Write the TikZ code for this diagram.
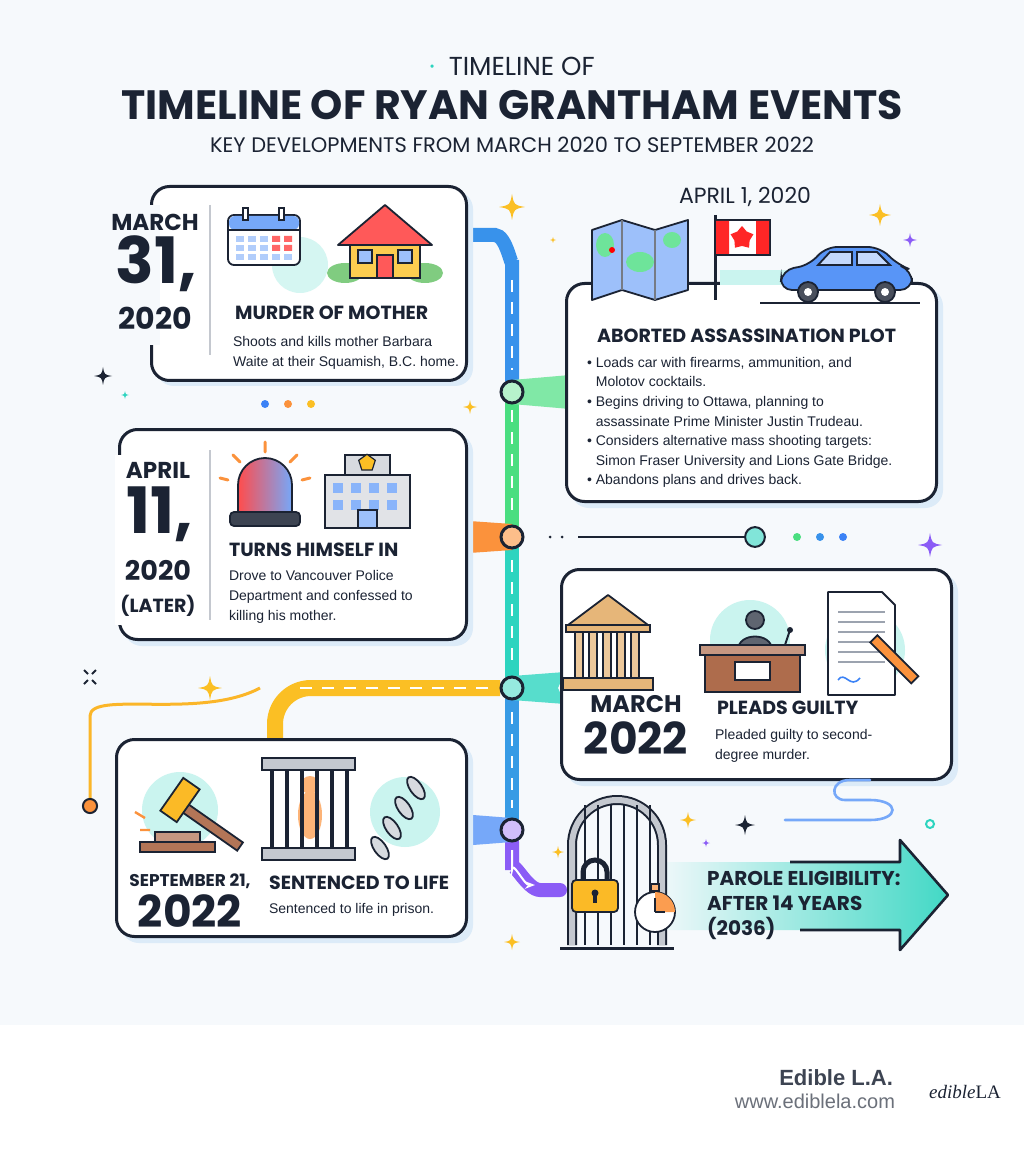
\documentclass[tikz,border=0pt]{standalone}
\usepackage{fontspec}
\setmainfont{Liberation Sans}
\newfontfamily\hd{Poppins}
\usetikzlibrary{shapes.geometric,arrows.meta,calc}
\definecolor{ink}{HTML}{1B2333}
\definecolor{bg}{HTML}{F6F9FC}
\definecolor{shadowc}{HTML}{DCEBF8}
\definecolor{lblue}{HTML}{3B82F6}
\definecolor{lgreen}{HTML}{4ADE80}
\definecolor{lteal}{HTML}{2DD4BF}
\definecolor{lpurple}{HTML}{8B5CF6}
\definecolor{lorange}{HTML}{FB923C}
\definecolor{lyellow}{HTML}{FBBF24}
\definecolor{tan}{HTML}{E0A458}
\definecolor{brownc}{HTML}{A0522D}
\definecolor{grayc}{HTML}{9CA3AF}
\tikzset{
 card/.style={draw=ink,line width=1.5pt,rounded corners=9pt,fill=white},
 shadowbox/.style={fill=shadowc,rounded corners=9pt},
 datebig/.style={font=\hd\bfseries\fontsize{32}{30}\selectfont,text=ink,align=center},
 ttl/.style={font=\hd\bfseries\fontsize{9.5}{11}\selectfont,text=ink,anchor=base west},
 body/.style={font=\fontsize{7}{10}\selectfont,text=ink,anchor=north west,align=left},
 dotn/.style={circle,draw=ink,line width=1.5pt,fill=white,minimum size=11pt,inner sep=0pt},
 icon/.style={draw=ink,line width=0.9pt},
}
\newcommand{\sparkle}[4]{\fill[#4] (#1,#2-#3) .. controls (#1+0.15*#3,#2-0.15*#3) .. (#1+#3,#2) .. controls (#1+0.15*#3,#2+0.15*#3) .. (#1,#2+#3) .. controls (#1-0.15*#3,#2+0.15*#3) .. (#1-#3,#2) .. controls (#1-0.15*#3,#2-0.15*#3) .. cycle;}
\begin{document}
\begin{tikzpicture}[x=0.5pt,y=-0.5pt]
\useasboundingbox (0,0) rectangle (1024,1154);
\fill[bg] (0,0) rectangle (1024,1025);
\fill[white] (0,1025) rectangle (1024,1154);
% titles
\node[font=\hd\fontsize{13}{15}\selectfont,text=ink] (t0) at (512,66) {{\color{lteal}·}\ \ TIMELINE OF};
\node[font=\hd\bfseries\fontsize{20.5}{24}\selectfont,text=ink] (t1) at (512,105) {TIMELINE OF RYAN GRANTHAM EVENTS};
\node[font=\hd\fontsize{10.5}{12}\selectfont,text=ink] (t2) at (512,145) {KEY DEVELOPMENTS FROM MARCH 2020 TO SEPTEMBER 2022};
% central line
\begin{scope}[line width=7pt,line cap=round]
\draw[lblue!80!lteal] (465,235) -- (495,235) to[out=0,in=-90] (512,260) -- (512,380);
\draw[lgreen] (512,400) -- (512,525);
\draw[lteal] (512,549) -- (512,676);
\draw[lblue!70!lteal] (512,700) -- (512,818);
\draw[lpurple] (512,842) -- (512,870) to[out=90,in=180] (540,890) -- (560,890);
\end{scope}
\draw[white,line width=1pt,dash pattern=on 6pt off 5pt] (512,280)--(512,370) (512,410)--(512,515) (512,560)--(512,665) (512,712)--(512,808);
\draw[white,line width=1pt,-{Stealth[length=5pt]}] (512,850)--(512,870) to[out=90,in=180] (535,885);
% orange paths
\draw[lyellow,line width=8pt,rounded corners=18pt] (275,738) -- (275,688) -- (500,688);
\draw[white,line width=1pt,dash pattern=on 6pt off 5pt] (300,688)--(490,688);
\draw[lyellow!80!lorange,line width=1.5pt,rounded corners=12pt] (90,805) -- (90,740) .. controls (90,690) and (200,720) .. (260,688);
\node[circle,draw=ink,fill=lorange,line width=1pt,inner sep=2.5pt] (od) at (90,806) {};
% ribbons
\fill[lgreen!70] (512,380) -- (570,375) -- (565,392) -- (570,409) -- (512,404) -- cycle;
\fill[lorange] (512,524) -- (455,520) -- (462,537) -- (455,554) -- (512,550) -- cycle;
\fill[lteal!80] (512,676) -- (565,672) -- (558,688) -- (565,704) -- (512,700) -- cycle;
\fill[lblue!70] (512,818) -- (460,814) -- (467,830) -- (460,846) -- (512,842) -- cycle;
% horizontal line right
\draw[ink,line width=1.2pt] (578,537) -- (745,537);
\fill[ink] (550,537) circle (1.5) (562,537) circle (1.5);
\node[circle,draw=ink,fill=lteal!60,line width=1pt,inner sep=3.5pt] (hc) at (755,537) {};
\fill[lgreen] (797,537) circle (4); \fill[lblue!80!lteal] (820,537) circle (4); \fill[lblue] (843,537) circle (4);
\fill[lblue] (265,404) circle (4); \fill[lorange] (288,404) circle (4); \fill[lyellow] (311,404) circle (4);
% cards
\fill[shadowbox] (156,191) rectangle (473,386);
\node[card,minimum width=157.5pt,minimum height=97pt,anchor=north west] (c1) at (150,185) {};
\fill[shadowbox] (571,288) rectangle (943,508);
\node[card,minimum width=185pt,minimum height=109pt,anchor=north west] (c2) at (565,282) {};
\fill[shadowbox] (124,434) rectangle (473,646);
\node[card,minimum width=173.5pt,minimum height=105pt,anchor=north west] (c3) at (118,428) {};
\fill[shadowbox] (566,574) rectangle (958,786);
\node[card,minimum width=195pt,minimum height=105pt,anchor=north west] (c4) at (560,568) {};
\fill[shadowbox] (121,744) rectangle (473,943);
\node[card,minimum width=175pt,minimum height=98.5pt,anchor=north west] (c5) at (115,738) {};
\fill[bg] (140,205) rectangle (160,345);
\fill[white] (115,455) rectangle (125,625);
% nodes on line
\node[dotn,fill=lgreen!40] (n1) at (512,392) {};
\node[dotn,fill=lorange!60] (n2) at (512,537) {};
\node[dotn,fill=lteal!50] (n3) at (512,688) {};
\node[dotn,fill=lpurple!40] (n4) at (512,830) {};
% card1
\node[font=\hd\bfseries\fontsize{11.5}{12}\selectfont,text=ink] (d1a) at (155,222) {MARCH};
\node[datebig] (d1b) at (156,264) {31,};
\node[font=\hd\bfseries\fontsize{15}{15}\selectfont,text=ink] (d1c) at (155,318) {2020};
\draw[grayc!60,line width=1pt] (210,205) -- (210,355);
\node[ttl] (h1) at (228,320) {MURDER OF MOTHER};
\node[body] (b1) at (226,329) {Shoots and kills mother Barbara\\Waite at their Squamish, B.C. home.};
% calendar
\fill[lteal!20] (300,265) circle (28);
\draw[icon,fill=white,rounded corners=3pt] (228,215) rectangle (300,265);
\fill[lblue!70,rounded corners=3pt] (229,216) rectangle (299,230);
\draw[icon] (228,230) -- (300,230);
\foreach \i in {0,...,4} \foreach \j in {0,1,2} {\fill[lblue!40] (236+\i*12,236+\j*9) rectangle +(8,6);}
\fill[red!60] (272,236) rectangle +(8,6) (284,236) rectangle +(8,6) (272,245) rectangle +(8,6) (284,245) rectangle +(8,6);
\draw[icon,fill=white] (243,208) rectangle +(5,12) (279,208) rectangle +(5,12);
% house
\fill[green!60!black!50] (345,273) ellipse (18 and 10) (425,273) ellipse (18 and 10);
\draw[icon,fill=lyellow!80] (350,240) rectangle (420,278);
\draw[icon,fill=red!65,line join=round] (338,245) -- (385,205) -- (432,245) -- cycle;
\draw[icon,fill=red!65] (377,255) rectangle (393,278);
\draw[icon,fill=lblue!50] (358,250) rectangle (372,263) (398,250) rectangle (412,263);
% card2
\node[font=\hd\fontsize{11}{12}\selectfont,text=ink] (d2) at (745,197) {APRIL 1, 2020};
\draw[icon,fill=lblue!50,line join=round] (592,230) -- (622,220) -- (655,230) -- (688,220) -- (688,290) -- (655,300) -- (622,290) -- (592,300) -- cycle;
\fill[lgreen!80] (605,245) ellipse (9 and 12) (640,262) ellipse (14 and 10) (672,240) ellipse (9 and 8);
\draw[ink!60,line width=0.6pt] (622,220)--(622,290) (655,230)--(655,300);
\fill[red] (612,250) circle (3);
\fill[lteal!25] (720,270) rectangle (900,285);
\draw[ink,line width=1.5pt] (715,215) -- (715,300);
\draw[icon,fill=white] (715,220) rectangle (770,255);
\fill[red!85] (716,221) rectangle (729,254) (756,221) rectangle (769,254);
\node[star,star points=5,fill=red!85,inner sep=0pt,minimum size=12pt] (leaf) at (742,238) {};
\draw[icon,fill=lblue!85,rounded corners=6pt] (780,290) -- (782,270) -- (810,265) -- (825,247) -- (880,247) -- (898,265) -- (912,270) -- (912,290) -- cycle;
\draw[icon,fill=lblue!30] (830,252) -- (852,252) -- (852,265) -- (818,265) -- cycle (857,252) -- (877,252) -- (890,265) -- (857,265) -- cycle;
\draw[icon,fill=ink!80] (808,292) circle (10) (885,292) circle (10);
\fill[white] (808,292) circle (4) (885,292) circle (4);
\draw[ink,line width=1.2pt] (760,303) -- (920,303);
\node[ttl] (h2) at (590,343) {ABORTED ASSASSINATION PLOT};
\node[body,font=\fontsize{7}{9.8}\selectfont] (b2) at (580,350) {%
• Loads car with firearms, ammunition, and\\
\phantom{•} Molotov cocktails.\\
• Begins driving to Ottawa, planning to\\
\phantom{•} assassinate Prime Minister Justin Trudeau.\\
• Considers alternative mass shooting targets:\\
\phantom{•} Simon Fraser University and Lions Gate Bridge.\\
• Abandons plans and drives back.};
% card3
\node[font=\hd\bfseries\fontsize{11.5}{12}\selectfont,text=ink] (d3a) at (158,470) {APRIL};
\node[datebig] (d3b) at (160,514) {11,};
\node[font=\hd\bfseries\fontsize{13.5}{14}\selectfont,text=ink] (d3c) at (158,570) {2020};
\node[font=\hd\bfseries\fontsize{9.5}{10}\selectfont,text=ink] (d3d) at (158,606) {(LATER)};
\draw[grayc!60,line width=1pt] (210,450) -- (210,620);
\draw[icon,fill=ink!85,rounded corners=2pt] (230,512) rectangle (300,526);
\shade[left color=red!70,right color=lblue!70,draw=ink,line width=0.9pt] (238,512) -- (238,485) arc (180:360:27) -- (292,512) -- cycle;
\draw[lorange,line width=1.5pt,line cap=round] (265,452)--(265,442) (240,462)--(233,455) (290,462)--(297,455) (228,480)--(220,478) (302,480)--(310,478);
\draw[icon,fill=grayc!30] (325,475) rectangle (410,528);
\draw[icon,fill=grayc!40] (345,455) rectangle (390,475);
\node[fill=lyellow,draw=ink,line width=0.6pt,regular polygon,regular polygon sides=5,inner sep=2.5pt] (badge) at (367,463) {};
\foreach \i in {0,1,2,3} {\fill[lblue!60] (333+\i*18,483) rectangle +(10,10); \fill[lblue!60] (333+\i*18,500) rectangle +(10,10);}
\draw[icon,fill=lblue!50] (358,510) rectangle (377,528);
\node[ttl] (h3) at (222,556) {TURNS HIMSELF IN};
\node[body] (b3) at (222,563) {Drove to Vancouver Police\\Department and confessed to\\killing his mother.};
% card4
\draw[icon,fill=tan!80,line join=round] (568,625) -- (608,595) -- (648,625) -- cycle;
\foreach \i in {0,...,4} {\draw[icon,fill=tan!60] (575+\i*14,628) rectangle +(8,50);}
\draw[icon,fill=tan!80] (566,625) rectangle (650,632) (563,678) rectangle (653,690);
\fill[lteal!25] (750,640) circle (40) (865,650) circle (40);
\draw[icon,fill=ink!70] (755,620) circle (9);
\draw[icon,fill=ink!70] (738,650) .. controls (738,632) and (772,632) .. (772,650) -- cycle;
\draw[icon,fill=brownc!85] (705,650) rectangle (800,692);
\draw[icon,fill=brownc!60] (700,645) rectangle (805,655);
\draw[icon,fill=white] (735,662) rectangle (770,680);
\draw[ink,line width=1pt] (785,645) -- (790,630); \fill[ink] (790,630) circle (3);
\draw[icon,fill=white,line join=round] (828,592) -- (882,592) -- (895,605) -- (895,695) -- (828,695) -- cycle;
\foreach \j in {0,...,5} {\draw[grayc,line width=0.8pt] (838,612+\j*10) -- (885,612+\j*10);}
\draw[lblue,line width=0.8pt] (838,680) .. controls (845,670) and (850,690) .. (860,678);
\draw[icon,fill=lorange,rotate around={45:(895,660)}] (890,630) rectangle (900,688);
\node[font=\hd\bfseries\fontsize{12}{12}\selectfont,text=ink] (d4a) at (636,704) {MARCH};
\node[font=\hd\bfseries\fontsize{22}{22}\selectfont,text=ink] (d4b) at (636,738) {2022};
\node[ttl] (h4) at (710,714) {PLEADS GUILTY};
\node[body] (b4) at (708,722) {Pleaded guilty to second-\\degree murder.};
% card5
\fill[lteal!25] (180,810) circle (38) (405,812) circle (35);
\draw[icon,fill=brownc!80,rotate around={-35:(195,815)}] (175,810) rectangle (250,820);
\draw[icon,fill=lyellow!90!lorange,rotate around={-35:(180,800)}] (170,780) rectangle (190,820);
\draw[icon,fill=brownc!80] (140,842) rectangle (215,852);
\draw[icon,fill=brownc!60] (155,832) rectangle (200,842);
\draw[lorange,line width=1.2pt] (135,812)--(145,818) (140,830)--(150,830);
\fill[lorange!70] (310,815) ellipse (12 and 24);
\fill[lorange!70] (310,785) circle (9);
\draw[icon,fill=grayc!60] (262,758) rectangle (355,770) (262,848) rectangle (355,860);
\foreach \i in {0,...,5} {\draw[ink,line width=1.8pt] (272+\i*15,770) -- (272+\i*15,848);}
\foreach \k in {0,...,3} {\draw[icon,fill=grayc!40,rotate around={-55:(380+\k*12,848-\k*20)}] (380+\k*12,848-\k*20) ellipse (13 and 6);}
\node[font=\hd\bfseries\fontsize{8.5}{9}\selectfont,text=ink] (d5a) at (190,881) {SEPTEMBER 21,};
\node[font=\hd\bfseries\fontsize{22}{22}\selectfont,text=ink] (d5b) at (190,911) {2022};
\node[ttl] (h5) at (262,889) {SENTENCED TO LIFE};
\node[body] (b5) at (262,896) {Sentenced to life in prison.};
% parole arrow
\shade[left color=bg,right color=lteal!90,draw=none] (650,862) -- (900,862) -- (900,840) -- (948,895) -- (900,950) -- (900,930) -- (650,930) -- cycle;
\draw[ink,line width=1.3pt,line join=round] (790,862) -- (900,862) -- (900,840) -- (948,895) -- (900,950) -- (900,930) -- (800,930);
% gate
\draw[ink,line width=5pt] (572,945) -- (572,845) arc (180:360:45) -- (662,945);
\draw[grayc!60,line width=3pt] (572,945) -- (572,845) arc (180:360:45) -- (662,945);
\foreach \i in {0,...,5} {\draw[ink,line width=1.3pt] (585+\i*13,805) -- (585+\i*13,945);}
\draw[ink,line width=1.5pt] (560,948) -- (674,948);
\draw[ink,line width=2.5pt] (583,882) -- (583,872) arc (180:360:12) -- (607,882);
\draw[icon,fill=lyellow!90!lorange,rounded corners=2pt] (572,880) rectangle (618,912);
\fill[ink] (595,893) circle (3.5); \draw[ink,line width=2pt] (595,893) -- (595,903);
\draw[icon,fill=white] (655,912) circle (20);
\fill[lorange!90] (655,912) -- (655,892) arc (270:360:20) -- cycle;
\draw[ink,line width=1pt] (655,912) -- (655,898) (655,912) -- (665,912);
\draw[icon,fill=lorange!70] (651,884) rectangle (659,891);
\node[font=\hd\bfseries\fontsize{10}{12.5}\selectfont,text=ink,align=left,anchor=west] (h6) at (700,905) {PAROLE ELIGIBILITY:\\AFTER 14 YEARS\\(2036)};
\draw[lblue!70,line width=1.3pt,line cap=round] (785,820) -- (870,820) .. controls (900,820) and (900,800) .. (870,800) -- (845,800) .. controls (830,800) and (830,780) .. (850,780) -- (870,780);
\draw[lteal,line width=1pt] (930,824) circle (4);
% sparkles
\sparkle{512}{207}{13}{lyellow}
\sparkle{880}{215}{11}{lyellow}
\sparkle{910}{240}{7}{lpurple}
\sparkle{553}{240}{3}{lyellow}
\sparkle{103}{376}{9}{ink}
\sparkle{125}{395}{4}{lteal}
\sparkle{470}{407}{7}{lyellow}
\sparkle{930}{545}{12}{lpurple}
\sparkle{210}{688}{12}{lyellow}
\sparkle{745}{825}{10}{ink}
\sparkle{688}{820}{8}{lyellow}
\sparkle{558}{852}{6}{lyellow}
\sparkle{512}{942}{8}{lyellow}
\sparkle{706}{843}{4}{lpurple}
\draw[ink,line width=1pt] (84,670)--(88,674) (96,670)--(92,674) (84,684)--(88,680) (96,684)--(92,680);
% footer
\node[font=\bfseries\fontsize{11}{12}\selectfont,text=ink!85,anchor=east] (f1) at (900,1078) {Edible L.A.};
\node[font=\fontsize{10}{12}\selectfont,text=ink!65,anchor=east] (f2) at (902,1101) {www.ediblela.com};
\node[font=\fontsize{9.5}{12}\selectfont,text=ink,anchor=west] (f3) at (922,1092) {\fontspec{Liberation Serif}\itshape edible\upshape LA};
\end{tikzpicture}
\end{document}
